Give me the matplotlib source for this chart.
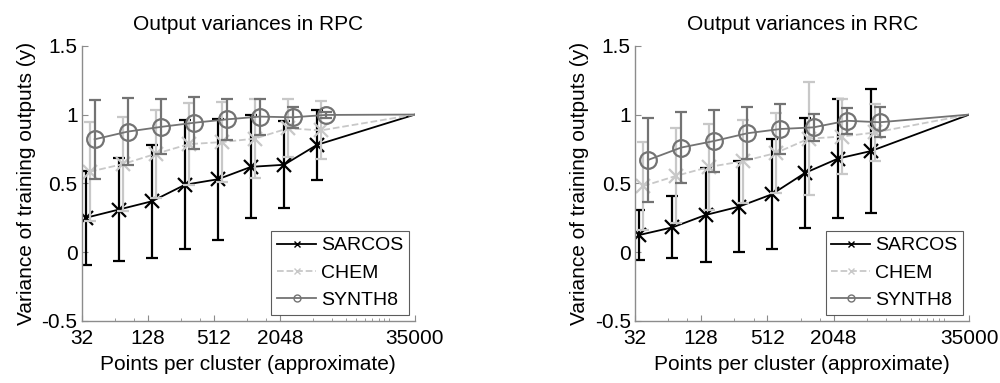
import numpy as np
import matplotlib
matplotlib.use("Agg")
import matplotlib.pyplot as plt
from matplotlib.lines import Line2D
from matplotlib.ticker import FixedLocator, NullFormatter

plt.rcParams['font.family'] = ['Liberation Sans', 'DejaVu Sans']

# Points per cluster for each dataset
x_sarcos = [35, 70, 140, 280, 560, 1120, 2240, 4480]
x_chem = [38, 76, 152, 304, 608, 1216, 2432, 4864]
x_synth = [42, 84, 168, 336, 672, 1344, 2688, 5376]
# all runs end at the full set (one cluster)
end_x = 35000
end_y = 1.0

# RPC: mean and std of output variance
rpc_sarcos = [0.25, 0.31, 0.37, 0.49, 0.53, 0.62, 0.635, 0.78]
rpc_sarcos_sd = [0.34, 0.375, 0.41, 0.47, 0.44, 0.375, 0.315, 0.255]
rpc_chem = [0.585, 0.64, 0.715, 0.785, 0.80, 0.825, 0.90, 0.885]
rpc_chem_sd = [0.36, 0.34, 0.32, 0.30, 0.29, 0.285, 0.21, 0.21]
rpc_synth = [0.82, 0.876, 0.91, 0.94, 0.965, 0.985, 0.98, 0.997]
rpc_synth_sd = [0.285, 0.245, 0.20, 0.19, 0.15, 0.13, 0.075, 0.02]

# RRC
rrc_sarcos = [0.125, 0.18, 0.27, 0.33, 0.42, 0.575, 0.68, 0.735]
rrc_sarcos_sd = [0.185, 0.225, 0.345, 0.33, 0.40, 0.40, 0.43, 0.45]
rrc_chem = [0.48, 0.555, 0.62, 0.66, 0.72, 0.825, 0.84, 0.87]
rrc_chem_sd = [0.32, 0.345, 0.31, 0.30, 0.29, 0.41, 0.275, 0.21]
rrc_synth = [0.67, 0.76, 0.808, 0.864, 0.895, 0.907, 0.955, 0.944]
rrc_synth_sd = [0.305, 0.26, 0.225, 0.19, 0.18, 0.10, 0.095, 0.11]

xticks = [32, 128, 512, 2048, 35000]
xminor = [64, 96, 256, 384, 1024, 1536, 4096, 6144, 8192, 10240, 12288,
          14336, 16384, 18432, 20480]
yticks = [-0.5, 0, 0.5, 1, 1.5]
ytick_labels = ['-0.5', '0', '0.5', '1', '1.5']

BLACK = '#000000'
LIGHT = '#c8c8c8'
GRAY = '#737373'
AXC = '#8c8c8c'
FS = 15

styles = [
    ('SARCOS', BLACK, '-', 'x', 10),
    ('CHEM', LIGHT, '--', 'x', 10),
    ('SYNTH8', GRAY, '-', 'o', 12),
]


def draw(ax, title, series):
    for (name, col, ls, mk, ms), (xs, m, sd) in zip(styles, series):
        ax.errorbar(xs, m, yerr=sd, fmt='none', ecolor=col, elinewidth=1.6,
                    capsize=4, capthick=1.6)
        ax.plot(list(xs) + [end_x], list(m) + [end_y], color=col, ls=ls,
                lw=1.3)
        ax.plot(xs, m, ls='none', marker=mk, ms=ms, mew=1.6, color=col,
                mfc='none')
    ax.set_xscale('log', base=2)
    ax.set_xlim(32, 35000)
    ax.set_ylim(-0.5, 1.5)
    ax.xaxis.set_major_locator(FixedLocator(xticks))
    ax.set_xticklabels([str(t) for t in xticks])
    ax.xaxis.set_minor_locator(FixedLocator(xminor))
    ax.xaxis.set_minor_formatter(NullFormatter())
    ax.set_yticks(yticks)
    ax.set_yticklabels(ytick_labels)
    for s in ['top', 'right']:
        ax.spines[s].set_visible(False)
    for s in ['left', 'bottom']:
        ax.spines[s].set_color(AXC)
        ax.spines[s].set_linewidth(1.0)
    ax.tick_params(axis='both', which='major', direction='in', length=4,
                   color=AXC, labelsize=FS, labelcolor='black')
    ax.tick_params(axis='x', which='major', pad=6)
    ax.tick_params(axis='y', which='major', pad=3)
    ax.tick_params(axis='x', which='minor', direction='in', length=2.5,
                   color=AXC)
    ax.set_title(title, fontsize=FS, pad=11)
    ax.set_xlabel('Points per cluster (approximate)', fontsize=FS, labelpad=5)
    ax.set_ylabel('Variance of training outputs (y)', fontsize=FS, labelpad=4)

    handles = [Line2D([], [], color=c, ls=ls, lw=1.3, marker=mk, ms=5,
                      mew=1.0, mfc='none')
               for (name, c, ls, mk, ms) in styles]
    leg = ax.legend(handles, [s[0] for s in styles], loc='lower right',
                    bbox_to_anchor=(0.982, 0.022), borderaxespad=0,
                    fontsize=14, frameon=True, fancybox=False,
                    handlelength=2.0, handletextpad=0.25, labelspacing=0.5,
                    borderpad=0.3)
    leg.get_frame().set_edgecolor('#333333')
    leg.get_frame().set_linewidth(0.8)


fig = plt.figure(figsize=(10, 3.83), dpi=100)
ax1 = fig.add_axes([0.0817, 0.1619, 0.3333, 0.7187])
ax2 = fig.add_axes([0.635, 0.1619, 0.3343, 0.7187])

draw(ax1, 'Output variances in RPC',
     [(x_sarcos, rpc_sarcos, rpc_sarcos_sd),
      (x_chem, rpc_chem, rpc_chem_sd),
      (x_synth, rpc_synth, rpc_synth_sd)])
draw(ax2, 'Output variances in RRC',
     [(x_sarcos, rrc_sarcos, rrc_sarcos_sd),
      (x_chem, rrc_chem, rrc_chem_sd),
      (x_synth, rrc_synth, rrc_synth_sd)])

fig.savefig('out.png', dpi=100)
